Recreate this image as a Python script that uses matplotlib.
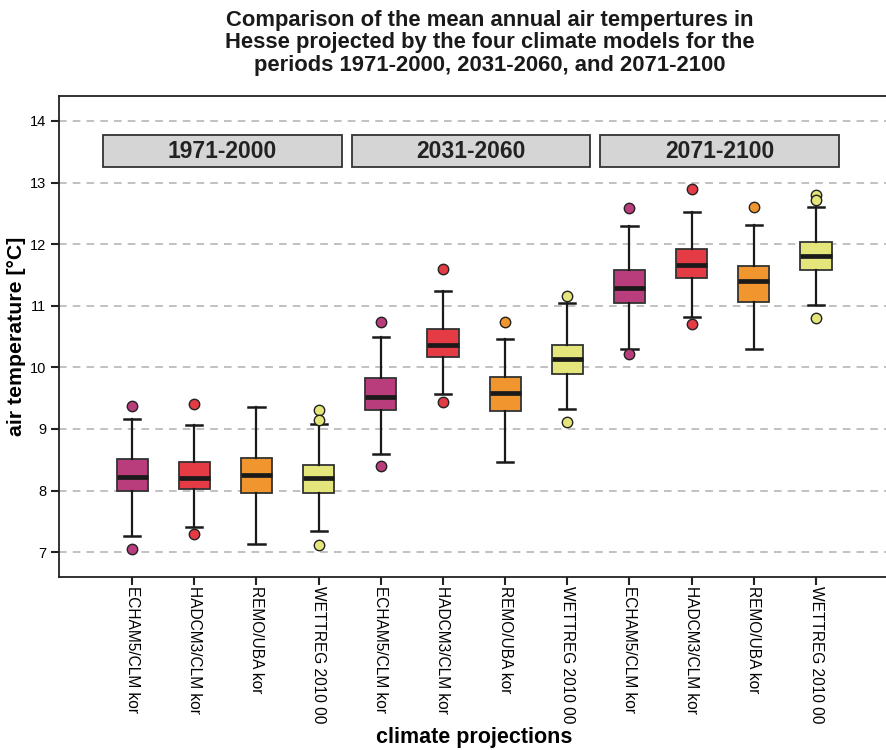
import matplotlib
matplotlib.use("Agg")
import matplotlib.pyplot as plt
from matplotlib.patches import Rectangle

plt.rcParams['font.family'] = ['Liberation Sans', 'DejaVu Sans']

# climate models and periods
models = ["ECHAM5/CLM kor", "HADCM3/CLM kor", "REMO/UBA kor", "WETTREG 2010 00"]
periods = ["1971-2000", "2031-2060", "2071-2100"]
model_colors = ["#b93c7c", "#e43b45", "#f1952f", "#e4e57a"]

# box statistics, 4 models x 3 periods, in period order
medians = [8.22, 8.21, 8.25, 8.20, 9.52, 10.36, 9.58, 10.14, 11.28, 11.66, 11.40, 11.80]
q1 = [7.99, 8.02, 7.96, 7.96, 9.30, 10.17, 9.29, 9.89, 11.05, 11.45, 11.06, 11.58]
q3 = [8.51, 8.47, 8.53, 8.42, 9.83, 10.62, 9.85, 10.36, 11.58, 11.92, 11.64, 12.03]
whislo = [7.26, 7.41, 7.13, 7.34, 8.60, 9.56, 8.46, 9.32, 10.30, 10.82, 10.30, 11.02]
whishi = [9.16, 9.07, 9.36, 9.08, 10.50, 11.24, 10.46, 11.05, 12.29, 12.52, 12.31, 12.61]
fliers = [[9.38, 7.05], [9.40, 7.30], [], [9.31, 9.15, 7.11],
          [10.73, 8.40], [11.60, 9.44], [10.73], [11.16, 9.12],
          [12.58, 10.21], [12.89, 10.70], [12.60], [12.80, 12.72, 10.80]]

fig = plt.figure(figsize=(8.87, 7.5), dpi=100)
ax = fig.add_axes([0.0669, 0.231, 1.002 - 0.0669, 0.8724 - 0.231])

stats = []
for i in range(len(medians)):
    stats.append(dict(med=medians[i], q1=q1[i], q3=q3[i],
                      whislo=whislo[i], whishi=whishi[i], fliers=fliers[i]))

positions = list(range(1, len(stats) + 1))
colors = [model_colors[i % 4] for i in range(len(stats))]

bp = ax.bxp(stats, positions=positions, widths=0.5, capwidths=0.26,
            patch_artist=True, showfliers=True, zorder=3,
            boxprops=dict(edgecolor="#333333", linewidth=1.3),
            medianprops=dict(color="#1a1a1a", linewidth=3.4),
            whiskerprops=dict(color="#1a1a1a", linewidth=1.6),
            capprops=dict(color="#1a1a1a", linewidth=1.8),
            flierprops=dict(marker="o", markersize=7.5, markeredgecolor="#222222",
                            markeredgewidth=1.0, linestyle="none"))
for patch, c in zip(bp["boxes"], colors):
    patch.set_facecolor(c)
for fl, c in zip(bp["fliers"], colors):
    fl.set_markerfacecolor(c)

# period header strips
for g, p in enumerate(periods):
    x0 = 0.53 + 4 * g
    ax.add_patch(Rectangle((x0, 13.25), 3.84, 0.52, facecolor="#d5d5d5",
                           edgecolor="#333333", linewidth=1.3, zorder=4))
    ax.text(x0 + 1.92, 13.5, p, ha="center", va="center", fontsize=16.5,
            fontweight="bold", color="#222222", zorder=5)

ax.set_xlim(-0.17, 13.17)
ax.set_ylim(6.6, 14.41)
ax.set_yticks(range(7, 15))
ax.set_xticks(positions)
ax.set_xticklabels([models[i % 4] for i in range(len(stats))], rotation=270,
                   fontsize=11.2, va="top", ha="center")
ax.tick_params(axis="y", labelsize=10.5, length=6, width=1.5, color="#222222")
ax.tick_params(axis="x", length=6, width=1.5, color="#222222", pad=1)
ax.yaxis.grid(True, linestyle=(0, (5, 4)), color="#b0b0b0", linewidth=1.1, zorder=0)
ax.set_axisbelow(True)

for s in ["left", "bottom", "top"]:
    ax.spines[s].set_linewidth(1.3)
    ax.spines[s].set_color("#222222")
ax.spines["right"].set_visible(False)

ax.set_ylabel("air temperature [°C]", fontsize=15.3, fontweight="bold", labelpad=3)
ax.set_xlabel("climate projections", fontsize=15.5, fontweight="bold", labelpad=2)

fig.text(0.552, 0.987, "Comparison of the mean annual air tempertures in\n"
         "Hesse projected by the four climate models for the\n"
         "periods 1971-2000, 2031-2060, and 2071-2100",
         ha="center", va="top", fontsize=15.8, fontweight="bold",
         linespacing=1.1, color="#1a1a1a")

fig.savefig("out.png", dpi=100)
